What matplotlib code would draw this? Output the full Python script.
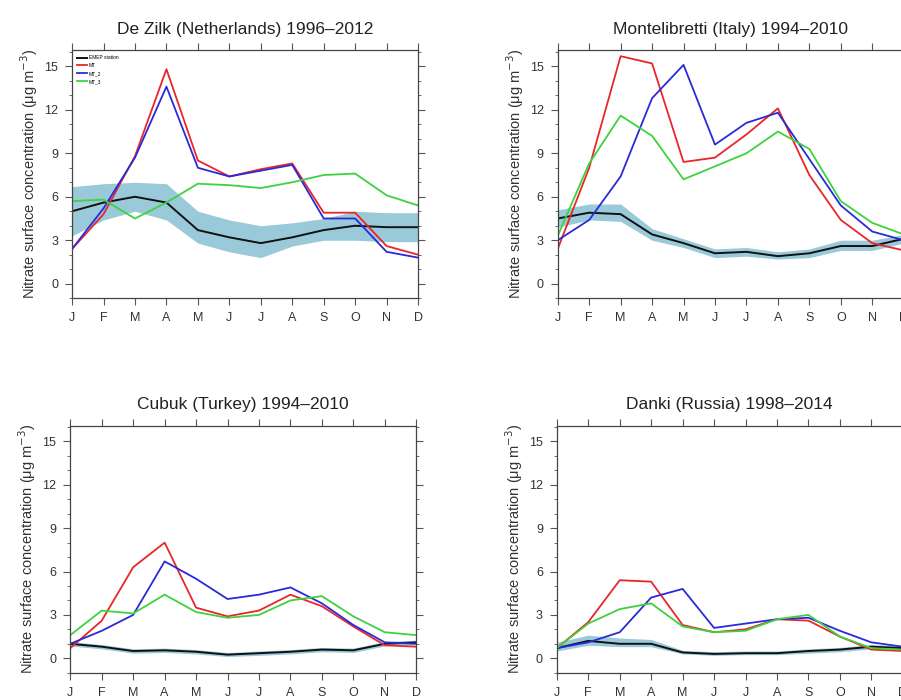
import numpy as np
import matplotlib.pyplot as plt

plt.rcParams['font.family'] = ['Liberation Sans', 'DejaVu Sans']

months = ['J', 'F', 'M', 'A', 'M', 'J', 'J', 'A', 'S', 'O', 'N', 'D']
titles = ['De Zilk (Netherlands) 1996\u20132012', 'Montelibretti (Italy) 1994\u20132010',
          'Cubuk (Turkey) 1994\u20132010', 'Danki (Russia) 1998\u20132014']
labels = ['EMEP station', 'MT', 'MT_2', 'MT_3']

# De Zilk
zilk_emep = [5.0, 5.6, 6.0, 5.6, 3.7, 3.2, 2.8, 3.2, 3.7, 4.0, 3.9, 3.9]
zilk_lo = [3.3, 4.4, 5.0, 4.4, 2.8, 2.2, 1.8, 2.6, 3.0, 3.0, 2.9, 2.9]
zilk_hi = [6.7, 6.9, 7.0, 6.9, 5.0, 4.4, 4.0, 4.2, 4.5, 5.0, 4.9, 4.9]
zilk_mt = [2.4, 4.8, 8.8, 14.8, 8.5, 7.4, 7.9, 8.3, 4.9, 4.9, 2.6, 2.0]
zilk_mt2 = [2.4, 5.2, 8.7, 13.6, 8.0, 7.4, 7.8, 8.2, 4.5, 4.5, 2.2, 1.8]
zilk_mt3 = [5.7, 5.8, 4.5, 5.6, 6.9, 6.8, 6.6, 7.0, 7.5, 7.6, 6.1, 5.4]

# Montelibretti
mont_emep = [4.5, 4.9, 4.8, 3.4, 2.8, 2.1, 2.2, 1.9, 2.1, 2.6, 2.6, 3.1]
mont_lo = [3.9, 4.4, 4.3, 3.0, 2.5, 1.8, 1.9, 1.7, 1.8, 2.3, 2.3, 2.8]
mont_hi = [5.1, 5.5, 5.5, 3.8, 3.1, 2.4, 2.5, 2.2, 2.4, 3.0, 3.0, 3.4]
mont_mt = [2.4, 8.0, 15.7, 15.2, 8.4, 8.7, 10.3, 12.1, 7.5, 4.4, 2.8, 2.3]
mont_mt2 = [3.0, 4.4, 7.4, 12.8, 15.1, 9.6, 11.1, 11.8, 8.6, 5.4, 3.6, 3.0]
mont_mt3 = [3.3, 8.3, 11.6, 10.2, 7.2, 8.1, 9.0, 10.5, 9.3, 5.7, 4.2, 3.4]

# Cubuk
cubuk_emep = [1.0, 0.8, 0.5, 0.55, 0.45, 0.25, 0.35, 0.45, 0.6, 0.55, 1.0, 1.1]
cubuk_lo = [0.85, 0.65, 0.35, 0.4, 0.3, 0.12, 0.2, 0.3, 0.45, 0.4, 0.85, 0.95]
cubuk_hi = [1.15, 0.95, 0.65, 0.7, 0.6, 0.4, 0.5, 0.6, 0.75, 0.7, 1.15, 1.25]
cubuk_mt = [0.7, 2.6, 6.3, 8.0, 3.5, 2.9, 3.3, 4.4, 3.6, 2.2, 0.9, 0.8]
cubuk_mt2 = [1.0, 1.9, 3.0, 6.7, 5.5, 4.1, 4.4, 4.9, 3.8, 2.3, 1.1, 1.0]
cubuk_mt3 = [1.6, 3.3, 3.1, 4.4, 3.2, 2.8, 3.0, 4.0, 4.3, 2.9, 1.8, 1.6]

# Danki
danki_emep = [0.7, 1.2, 1.0, 1.0, 0.4, 0.3, 0.35, 0.35, 0.5, 0.6, 0.8, 0.7]
danki_lo = [0.5, 0.9, 0.8, 0.8, 0.3, 0.2, 0.25, 0.25, 0.35, 0.45, 0.65, 0.55]
danki_hi = [1.1, 1.6, 1.4, 1.3, 0.55, 0.45, 0.5, 0.5, 0.65, 0.75, 0.95, 0.85]
danki_mt = [0.7, 2.5, 5.4, 5.3, 2.3, 1.8, 2.0, 2.7, 2.6, 1.5, 0.6, 0.5]
danki_mt2 = [0.7, 1.1, 1.8, 4.2, 4.8, 2.1, 2.4, 2.7, 2.8, 1.9, 1.1, 0.8]
danki_mt3 = [0.7, 2.4, 3.4, 3.8, 2.2, 1.8, 1.9, 2.7, 3.0, 1.5, 0.7, 0.6]

sites = [
    (zilk_emep, zilk_lo, zilk_hi, zilk_mt, zilk_mt2, zilk_mt3),
    (mont_emep, mont_lo, mont_hi, mont_mt, mont_mt2, mont_mt3),
    (cubuk_emep, cubuk_lo, cubuk_hi, cubuk_mt, cubuk_mt2, cubuk_mt3),
    (danki_emep, danki_lo, danki_hi, danki_mt, danki_mt2, danki_mt3),
]

# axes boxes in figure fraction (right column runs off the figure edge like the source)
boxes = [
    [0.080, 0.574, 0.384, 0.354],
    [0.619, 0.574, 0.384, 0.354],
    [0.078, 0.039, 0.384, 0.353],
    [0.618, 0.039, 0.384, 0.353],
]

fig = plt.figure(figsize=(9.01, 7.0), dpi=100)
x = np.arange(12)
band_color = '#8fc3d6'
line_colors = ['#111111', '#e8262a', '#2a2ad8', '#3ed23e']

for i, (box, data) in enumerate(zip(boxes, sites)):
    emep, lo, hi, mt, mt2, mt3 = data
    ax = fig.add_axes(box)
    ax.fill_between(x, lo, hi, color=band_color, lw=0, alpha=0.9)
    ax.plot(x, emep, color=line_colors[0], lw=1.4, label=labels[0])
    ax.plot(x, mt, color=line_colors[1], lw=1.3, label=labels[1])
    ax.plot(x, mt2, color=line_colors[2], lw=1.3, label=labels[2])
    ax.plot(x, mt3, color=line_colors[3], lw=1.3, label=labels[3])

    ax.set_xlim(0, 11)
    ax.set_ylim(-1, 16.1)
    ax.set_xticks(x)
    ax.set_xticklabels(months)
    ax.set_yticks([0, 3, 6, 9, 12, 15])
    ax.set_yticks(np.arange(-1, 17), minor=True)
    ax.tick_params(which='both', direction='out', top=True, right=True,
                   color='#555555', labelsize=9, labelcolor='#333333', pad=5)
    ax.tick_params(which='major', length=5, width=0.8)
    ax.tick_params(which='minor', length=2.5, width=0.6)
    for s in ax.spines.values():
        s.set_color('#444444')
        s.set_linewidth(0.9)
    ax.set_title(titles[i], fontsize=12.5, color='#222222', pad=12)
    ax.set_ylabel('Nitrate surface concentration (\u03bcg m$^{-3}$)', fontsize=10.5,
                  color='#333333', labelpad=3)
    if i == 0:
        ax.legend(loc='upper left', fontsize=3.5, frameon=False, handlelength=2.0,
                  handletextpad=0.4, labelspacing=0.6, borderaxespad=0.6)

fig.savefig('out.png', dpi=100)
